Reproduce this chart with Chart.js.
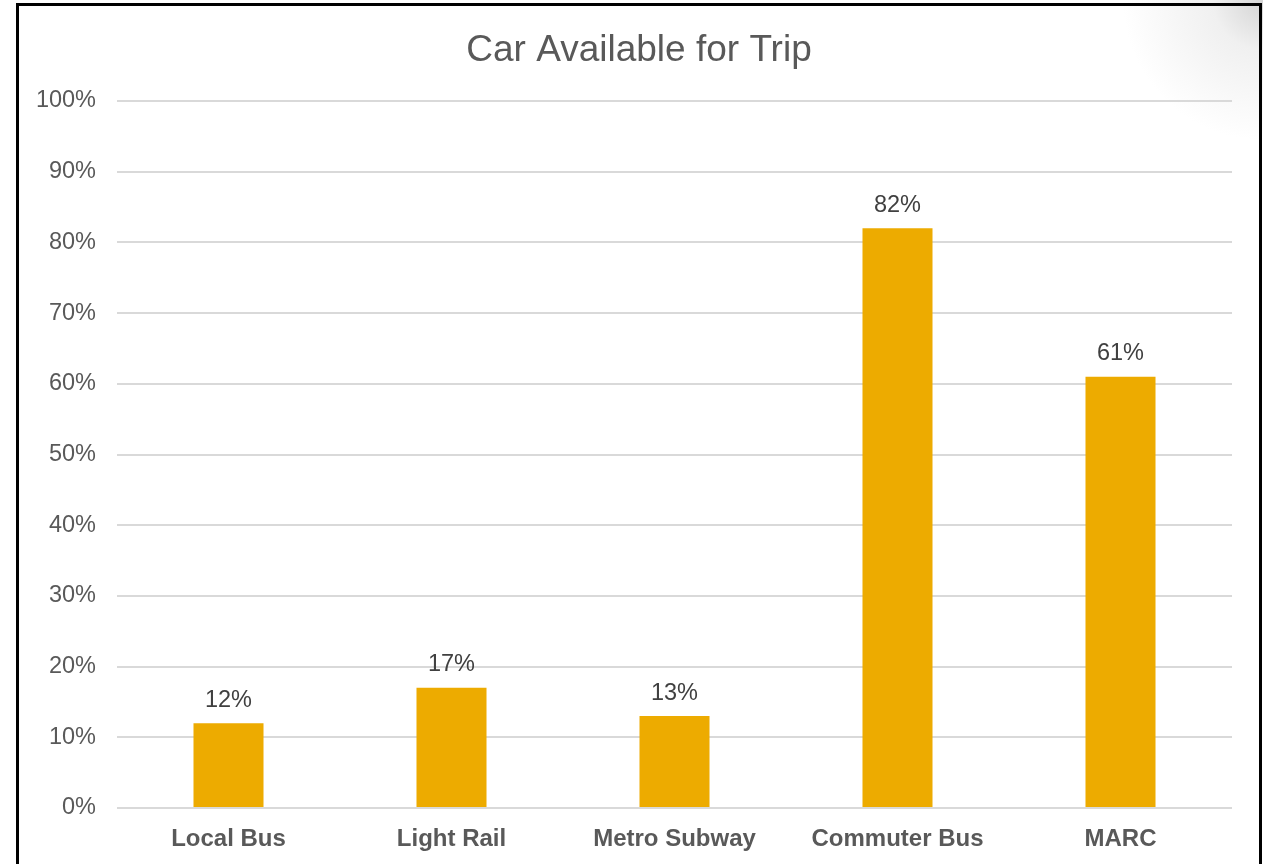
<!DOCTYPE html>
<html>
<head>
<meta charset="utf-8">
<script src="https://cdn.jsdelivr.net/npm/chart.js@4/dist/chart.umd.min.js"></script>
<style>
    html, body { margin: 0; padding: 0; background: #fff; overflow: hidden; }
    #wrap { position: relative; width: 1263px; height: 864px;
        background: radial-gradient(circle at 1263px 0px, #d4d4d4 0px, #f0f0f0 50px, rgba(255,255,255,0) 140px); }
    #frame { position: absolute; left: 16px; top: 3px; width: 1240px; height: 900px;
        border: 3px solid #000; pointer-events: none; }
    canvas { position: absolute; left: 0; top: 0; }
</style>
</head>
<body>
<div id="wrap">
    <canvas id="myChart" width="1263" height="864"></canvas>
    <div id="frame"></div>
</div>
<script>
var categories = ["Local Bus", "Light Rail", "Metro Subway", "Commuter Bus", "MARC"];
var values = [12, 17, 13, 82, 61];
var yTicks = [0, 10, 20, 30, 40, 50, 60, 70, 80, 90, 100];

var FONT = '"Liberation Sans", Arial, sans-serif';

// little stand-in for the datalabels plugin
var barLabels = {
    id: 'barLabels',
    afterLayout: function (chart) {
        // centre the title on the frame, not on the canvas
        if (chart.titleBlock) {
            chart.titleBlock.left = 46;
        }
    },
    afterDatasetsDraw: function (chart) {
        var ctx = chart.ctx;
        var meta = chart.getDatasetMeta(0);
        ctx.save();
        ctx.font = '23.5px ' + FONT;
        ctx.fillStyle = '#404040';
        ctx.textAlign = 'center';
        ctx.textBaseline = 'middle';
        meta.data.forEach(function (bar, i) {
            ctx.fillText(values[i] + '%', bar.x, bar.y - 23);
        });
        ctx.restore();
    }
};

var ctx = document.getElementById('myChart').getContext('2d');
var chart = new Chart(ctx, {
    type: 'bar',
    data: {
        labels: categories,
        datasets: [{
            label: 'Car Available for Trip',
            backgroundColor: '#edab00',
            data: values,
            barPercentage: 0.314,
            categoryPercentage: 1
        }]
    },
    options: {
        responsive: false,
        animation: false,
        layout: { padding: { top: 29, right: 31, left: 0, bottom: 0 } },
        plugins: {
            legend: { display: false },
            tooltip: { enabled: false },
            title: {
                display: true,
                text: 'Car Available for Trip',
                color: '#595959',
                font: { family: FONT, size: 37, weight: 'normal' },
                padding: { top: 0, bottom: 27.6 }
            }
        },
        scales: {
            x: {
                grid: { display: false, drawTicks: false },
                border: { display: false },
                ticks: {
                    color: '#595959',
                    padding: 17,
                    font: { family: FONT, size: 24, weight: 'bold' }
                },
                afterFit: function (scale) { scale.height = 56; }
            },
            y: {
                min: 0,
                max: 100,
                afterBuildTicks: function (scale) {
                    scale.ticks = yTicks.map(function (v) { return { value: v }; });
                },
                grid: { color: '#d9d9d9', lineWidth: 2, drawTicks: false },
                border: { display: false },
                ticks: {
                    color: '#595959',
                    padding: 21,
                    font: { family: FONT, size: 23.5 },
                    callback: function (v) { return v + '%'; }
                },
                afterFit: function (scale) { scale.width = 117; }
            }
        }
    },
    plugins: [barLabels]
});
</script>
</body>
</html>
